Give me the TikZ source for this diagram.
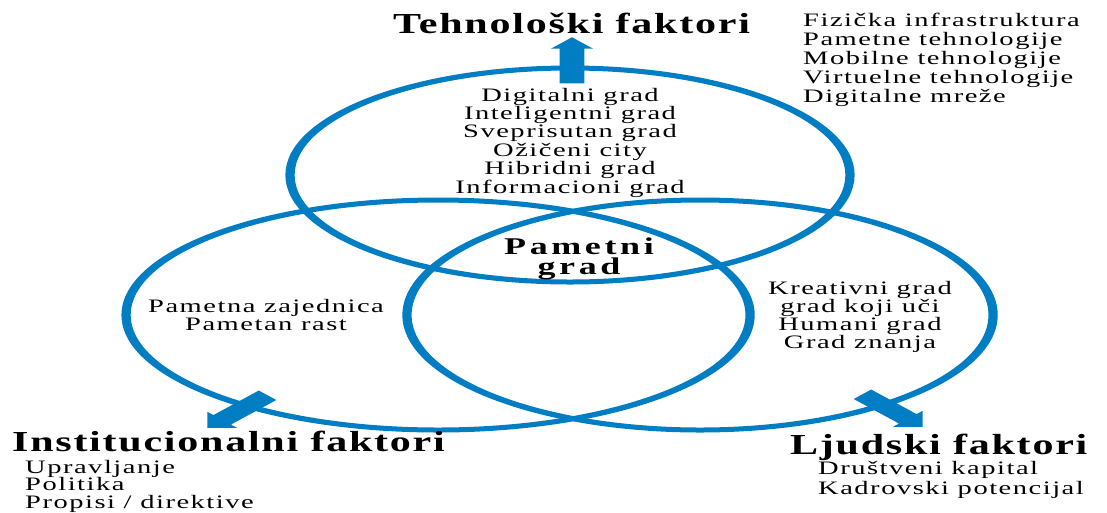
\documentclass[tikz,border=0pt]{standalone}
\usepackage{fontspec}
\setmainfont{Liberation Serif}
\newfontfamily\bodyfont[FakeStretch=1.5,LetterSpace=8]{Liberation Serif}
\newfontfamily\headfont[FakeStretch=1.45,LetterSpace=6]{Liberation Serif}
\newfontfamily\corefont[FakeStretch=1.5,LetterSpace=15]{Liberation Serif}
\usetikzlibrary{shapes.geometric,shapes.arrows}
\definecolor{vennblue}{RGB}{0,125,195}
\begin{document}
\begin{tikzpicture}[x=1pt,y=-1pt,
  ring/.style={draw=vennblue, line width=5pt, ellipse, inner sep=0pt},
  blockarrow/.style={single arrow, fill=vennblue, draw=none, inner xsep=0pt, inner ysep=6.5pt,
     single arrow head extend=4.6pt, single arrow tip angle=90, minimum height=46pt, anchor=tip},
  body/.style={font=\bodyfont\fontsize{19}{19}\selectfont, inner sep=0pt, text=black},
  head/.style={font=\headfont\bfseries\fontsize{29}{30}\selectfont, inner sep=0pt, text=black},
  core/.style={font=\corefont\bfseries\fontsize{24}{20}\selectfont, inner sep=0pt, text=black, align=center}]
\useasboundingbox (0,0) rectangle (1107,512);
\fill[white] (0,0) rectangle (1107,512);
% stretched drawing (ellipses and arrows)
\begin{scope}[transform canvas={xscale=1.85}]
  \node[ring, minimum width=302.7pt, minimum height=214pt] (tech) at (308.1,175) {};
  \node[ring, minimum width=337.3pt, minimum height=230pt] (inst) at (236.8,315) {};
  \node[ring, minimum width=316.8pt, minimum height=230pt] (human) at (378.4,315) {};
  \node[blockarrow, rotate=90] (arrT) at (309.2,37) {};
  \node[blockarrow, rotate=225] (arrL) at (111.9,428) {};
  \node[blockarrow, rotate=-45] (arrR) at (498.9,427) {};
\end{scope}
% titles
\node[head, anchor=base] (tTitle) at (571.5,33) {Tehnološki faktori};
\node[head, anchor=base west] (iTitle) at (12,451) {Institucionalni faktori};
\node[head, anchor=base west] (hTitle) at (790,454) {Ljudski faktori};
% centre
\node[core] (core) at (579,258.5) {Pametni\\grad};
% top ellipse list
\foreach \t [count=\i from 0] in {Digitalni grad, Inteligentni grad, Sveprisutan grad, Ožičeni city, Hibridni grad, Informacioni grad}
  \node[body, anchor=base] (city\i) at (570,{101+18.4*\i}) {\t};
% top-right list
\foreach \t [count=\i from 0] in {Fizička infrastruktura, Pametne tehnologije, Mobilne tehnologije, Virtuelne tehnologije, Digitalne mreže}
  \node[body, anchor=base west] (tech\i) at (803,{26+19*\i}) {\t};
% left ellipse
\node[body, anchor=base] (inst1) at (266,312) {Pametna zajednica};
\node[body, anchor=base] (inst2) at (266,330) {Pametan rast};
% right ellipse
\foreach \t [count=\i from 0] in {Kreativni grad, grad koji uči, Humani grad, Grad znanja}
  \node[body, anchor=base] (hum\i) at (860,{294+18*\i}) {\t};
% lower-left list
\foreach \t [count=\i from 0] in {Upravljanje, Politika, Propisi / direktive}
  \node[body, anchor=base west] (gov\i) at (25,{473+17.5*\i}) {\t};
% lower-right list
\node[body, anchor=base west] (hr0) at (818,474) {Društveni kapital};
\node[body, anchor=base west] (hr1) at (818,494) {Kadrovski potencijal};
\end{tikzpicture}
\end{document}
